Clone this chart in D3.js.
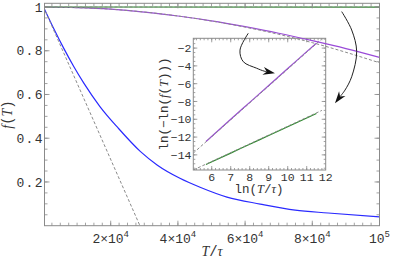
<!DOCTYPE html>
<html>
<head>
<meta charset="utf-8">
<script src="https://cdn.jsdelivr.net/npm/d3@7"></script>
<style>
  body { margin: 0; background: #fff; }
  text { font-family: "Liberation Mono", monospace; fill: #333; }
  .it { font-family: "Liberation Serif", serif; font-style: italic; }
</style>
</head>
<body>
<div id="chart"></div>
<script>
// main panel: f(T) against T/tau
const blueT = [300, 3000, 6000, 9000, 12000, 16800, 22200, 28800, 33800, 40600, 46600, 54600, 64500, 74900, 84700, 100000];
const blueF = [0.99, 0.903, 0.812, 0.728, 0.652, 0.545, 0.447, 0.340, 0.278, 0.217, 0.176, 0.131, 0.099, 0.071, 0.058, 0.040];

const purpleT = [300, 10000, 20000, 30000, 40000, 50000, 60000, 70000, 80000, 90000, 100000];
const purpleF = [1.0, 0.997, 0.990, 0.977, 0.959, 0.937, 0.910, 0.880, 0.846, 0.810, 0.770];

const greenT = [300, 100000];
const greenF = [1.0, 0.9999];

// gray dashed short-time approximations
const approxBlueT = [0, 28700];
const approxBlueF = [1.0, 0];
const approxPurpleT = [300, 20000, 40000, 60000, 70000, 80000, 90000, 100000];
const approxPurpleF = [1.0, 0.990, 0.959, 0.908, 0.875, 0.837, 0.793, 0.745];
const approxGreenT = [300, 100000];
const approxGreenF = [1.0, 1.0];

// inset: ln(-ln f) against ln(T/tau)
const insetPurpleX = [5.70, 7, 8, 9, 10, 11, 11.51];
const insetPurpleY = [-12.5, -10.0, -8.1, -6.2, -4.3, -2.4, -1.45];
const insetGreenX = [5.70, 7, 8, 9, 10, 11, 11.51];
const insetGreenY = [-15.08, -13.8, -12.81, -11.83, -10.84, -9.85, -9.35];
const insetApproxPurpleX = [5.03, 11.8];
const insetApproxPurpleY = [-13.8, -0.95];
const insetApproxGreenX = [5.03, 11.8];
const insetApproxGreenY = [-15.7, -9.0];

// ticks
const xMajor = [20000, 40000, 60000, 80000, 100000];
const xLabels = [["2×10", "4"], ["4×10", "4"], ["6×10", "4"], ["8×10", "4"], ["10", "5"]];
const yMajor = [0.2, 0.4, 0.6, 0.8, 1];
const yLabels = ["0.2", "0.4", "0.6", "0.8", "1"];
const insetXMajor = [6, 7, 8, 9, 10, 11, 12];
const insetYMajor = [-14, -12, -10, -8, -6, -4, -2];

// arrows, given in main-panel data coordinates
const arrow1T = [60950, 58480, 59460, 63450, 65620, 68890];
const arrow1F = [0.880, 0.803, 0.750, 0.720, 0.707, 0.697];
const arrow2T = [88750, 91720, 93210, 91720, 89730, 86750];
const arrow2F = [0.979, 0.895, 0.796, 0.681, 0.620, 0.560];

const W = 395, H = 262;
const svg = d3.select("#chart").append("svg").attr("width", W).attr("height", H);

const x = d3.scaleLinear().domain([300, 100000]).range([44.5, 379.5]);
const y = d3.scaleLinear().domain([0, 1.017]).range([225.7, 3.3]);
const ix = d3.scaleLinear().domain([5.03, 12]).range([193.3, 325.7]);
const iy = d3.scaleLinear().domain([-15.7, -0.9]).range([170, 38.3]);

const zip = (a, b) => a.map((v, i) => [v, b[i]]);

function frame(g, xs, ys, xTicks, xMinor, yTicks, yMinor, maj, min) {
  const [x0, x1] = xs.range(), [y0, y1] = ys.range();
  g.append("rect").attr("x", x0).attr("y", y1).attr("width", x1 - x0).attr("height", y0 - y1)
    .attr("fill", "none").attr("stroke", "#8a8a8a").attr("stroke-width", 1);
  const t = g.append("g").attr("stroke", "#8a8a8a").attr("stroke-width", 0.8);
  const vt = (list, len) => list.forEach(v => {
    const px = xs(v);
    if (px <= x0 + 0.5 || px >= x1 - 0.5) return;
    t.append("line").attr("x1", px).attr("x2", px).attr("y1", y0).attr("y2", y0 - len);
    t.append("line").attr("x1", px).attr("x2", px).attr("y1", y1).attr("y2", y1 + len);
  });
  const ht = (list, len) => list.forEach(v => {
    const py = ys(v);
    if (py >= y0 - 0.5 || py <= y1 + 0.5) return;
    t.append("line").attr("y1", py).attr("y2", py).attr("x1", x0).attr("x2", x0 + len);
    t.append("line").attr("y1", py).attr("y2", py).attr("x1", x1).attr("x2", x1 - len);
  });
  vt(xMinor, min); vt(xTicks, maj); ht(yMinor, min); ht(yTicks, maj);
}

function drawLine(g, xs, ys, xv, yv, color, width, dash) {
  const line = d3.line().x(d => xs(d[0])).y(d => ys(d[1])).curve(d3.curveMonotoneX);
  const p = g.append("path").datum(zip(xv, yv)).attr("d", line)
    .attr("fill", "none").attr("stroke", color).attr("stroke-width", width);
  if (dash) p.attr("stroke-dasharray", dash);
}

// clip paths
const defs = svg.append("defs");
defs.append("clipPath").attr("id", "clipMain").append("rect")
  .attr("x", 44.5).attr("y", 3.3).attr("width", 335).attr("height", 222.4);
defs.append("clipPath").attr("id", "clipInset").append("rect")
  .attr("x", 193.3).attr("y", 38.3).attr("width", 132.4).attr("height", 131.7);

// inset (drawn first, main curves pass over its corner)
const inset = svg.append("g").attr("clip-path", "url(#clipInset)");
drawLine(inset, ix, iy, insetPurpleX, insetPurpleY, "#9a4ad8", 1.2);
drawLine(inset, ix, iy, insetGreenX, insetGreenY, "#2e8b2e", 1.2);
drawLine(inset, ix, iy, insetApproxPurpleX, insetApproxPurpleY, "#8a8a8a", 1, "3,2");
drawLine(inset, ix, iy, insetApproxGreenX, insetApproxGreenY, "#8a8a8a", 1, "3,2");

frame(svg.append("g"), ix, iy, insetXMajor, d3.range(5.2, 12, 0.2), insetYMajor, d3.range(-15.5, -0.9, 0.5), 4, 2);

const ixl = svg.append("g").attr("font-size", 11.5).attr("text-anchor", "middle");
insetXMajor.forEach(v => ixl.append("text").attr("x", ix(v)).attr("y", 180.5).text(v));
const iyl = svg.append("g").attr("font-size", 11.5).attr("text-anchor", "end");
insetYMajor.forEach(v => iyl.append("text").attr("x", 191.5).attr("y", iy(v)).attr("dy", "0.35em").text("−" + Math.abs(v)));

const ixt = svg.append("text").attr("x", 259).attr("y", 193).attr("text-anchor", "middle").attr("font-size", 12.5);
ixt.append("tspan").text("ln(");
ixt.append("tspan").attr("class", "it").text("T");
ixt.append("tspan").text("/");
ixt.append("tspan").attr("class", "it").text("τ");
ixt.append("tspan").text(")");

const iyt = svg.append("text").attr("transform", "translate(168,104) rotate(-90)")
  .attr("text-anchor", "middle").attr("font-size", 12.5);
iyt.append("tspan").text("ln(−ln(");
iyt.append("tspan").attr("class", "it").text("f");
iyt.append("tspan").text("(");
iyt.append("tspan").attr("class", "it").text("T");
iyt.append("tspan").text(")))");

// main curves
const main = svg.append("g").attr("clip-path", "url(#clipMain)");
drawLine(main, x, y, blueT, blueF, "#2a2aff", 1.2);
drawLine(main, x, y, purpleT, purpleF, "#9a4ad8", 1.2);
drawLine(main, x, y, greenT, greenF, "#2e8b2e", 1.2);
drawLine(main, x, y, approxBlueT, approxBlueF, "#8a8a8a", 1, "3,2");
drawLine(main, x, y, approxPurpleT, approxPurpleF, "#8a8a8a", 1, "3,2");
drawLine(main, x, y, approxGreenT, approxGreenF, "#8a8a8a", 1, "3,2");

// main frame
const mainMinorX = d3.range(2500, 100000, 2500);
const mainMinorY = d3.range(0.05, 1.01, 0.05);
frame(svg.append("g"), x, y, xMajor, mainMinorX, yMajor, mainMinorY, 5, 3);

// main tick labels
const xl = svg.append("g").attr("font-size", 13).attr("text-anchor", "middle");
xMajor.forEach((v, i) => {
  const t = xl.append("text").attr("x", x(v)).attr("y", 242.5);
  t.append("tspan").text(xLabels[i][0]);
  t.append("tspan").attr("dy", -6).attr("font-size", 9).text(xLabels[i][1]);
});
const yl = svg.append("g").attr("font-size", 13).attr("text-anchor", "end")
  .attr("letter-spacing", 1.4);
yMajor.forEach((v, i) => {
  yl.append("text").attr("x", 44).attr("y", y(v)).attr("dy", "0.35em").text(yLabels[i]);
});

// main axis titles
const xt = svg.append("text").attr("x", 212).attr("y", 256).attr("text-anchor", "middle").attr("font-size", 14);
xt.append("tspan").attr("class", "it").text("T");
xt.append("tspan").text("/");
xt.append("tspan").attr("class", "it").text("τ");

const yt = svg.append("text").attr("transform", "translate(12,114.5) rotate(-90)")
  .attr("text-anchor", "middle").attr("font-size", 14);
yt.append("tspan").attr("class", "it").text("f");
yt.append("tspan").text("(");
yt.append("tspan").attr("class", "it").text("T");
yt.append("tspan").text(")");

// arrows
function arrow(tv, fv) {
  const pts = zip(tv, fv).map(d => [x(d[0]), y(d[1])]);
  const tip = pts[pts.length - 1], prev = pts[pts.length - 2];
  const ang = Math.atan2(tip[1] - prev[1], tip[0] - prev[0]);
  const len = 12, half = 4;
  const base = [tip[0] - len * Math.cos(ang), tip[1] - len * Math.sin(ang)];
  const notch = [tip[0] - len * 0.7 * Math.cos(ang), tip[1] - len * 0.7 * Math.sin(ang)];
  const linePts = pts.slice(0, -1).concat([notch]);
  svg.append("path").attr("d", d3.line().curve(d3.curveCatmullRom)(linePts))
    .attr("fill", "none").attr("stroke", "#222").attr("stroke-width", 1);
  const px = -Math.sin(ang), py = Math.cos(ang);
  const head = [tip, [base[0] + half * px, base[1] + half * py], notch, [base[0] - half * px, base[1] - half * py]];
  svg.append("path").attr("d", "M" + head.map(p => p.join(",")).join("L") + "Z").attr("fill", "#111");
}
arrow(arrow1T, arrow1F);
arrow(arrow2T, arrow2F);
</script>
</body>
</html>
